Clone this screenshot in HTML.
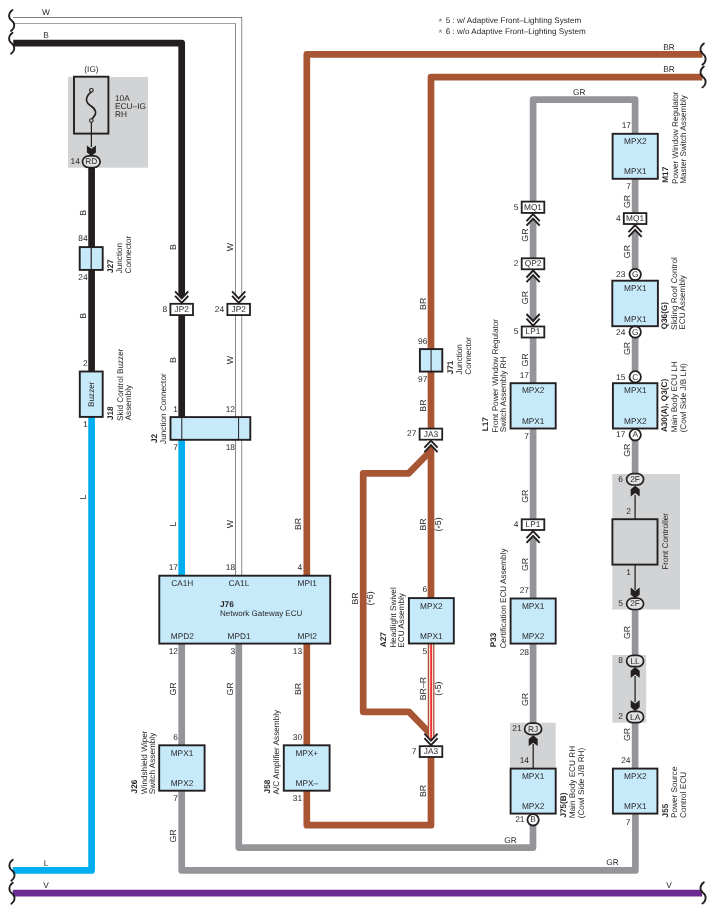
<!DOCTYPE html>
<html><head><meta charset="utf-8"><title>Wiring Diagram</title>
<style>
html,body{margin:0;padding:0;background:#fff;}
svg{display:block;will-change:transform;}
text.v{font-size:8.2px;}
text.s{font-size:8.8px;}
text.p{font-size:8.4px;}
text{font-family:"Liberation Sans",sans-serif;font-size:8.3px;fill:#231f20;text-rendering:geometricPrecision;}
</style></head>
<body>
<svg width="715" height="914" viewBox="0 0 715 914">
<rect x="0" y="0" width="715" height="914" fill="#fff"/>
<rect x="68" y="77" width="80" height="90.7" fill="#d1d3d4"/>
<rect x="612.3" y="474" width="67.7" height="135.5" fill="#d1d3d4"/>
<rect x="612.3" y="655" width="33.9" height="67.7" fill="#d1d3d4"/>
<rect x="510" y="722.7" width="45.7" height="45.3" fill="#d1d3d4"/>
<polyline points="13,20.4 238.7,20.4 238.7,576" fill="none" stroke="#58595b" stroke-width="6.9" stroke-linejoin="miter"/>
<polyline points="13,20.4 238.7,20.4 238.7,576" fill="none" stroke="#fff" stroke-width="5.5" stroke-linejoin="miter"/>
<polyline points="13.3,43.1 181.7,43.1 181.7,417" fill="none" stroke="#231f20" stroke-width="6.7" stroke-linejoin="round" stroke-linecap="butt"/>
<polyline points="91.6,166 91.6,371" fill="none" stroke="#231f20" stroke-width="6.7" stroke-linejoin="round" stroke-linecap="butt"/>
<polyline points="91.6,417 91.6,870.4 12.8,870.4" fill="none" stroke="#00aeef" stroke-width="6.7" stroke-linejoin="round" stroke-linecap="butt"/>
<polyline points="181.7,440 181.7,576" fill="none" stroke="#00aeef" stroke-width="6.7" stroke-linejoin="round" stroke-linecap="butt"/>
<polyline points="181.7,644 181.7,870.4 635.4,870.4 635.4,814" fill="none" stroke="#939598" stroke-width="6.7" stroke-linejoin="round" stroke-linecap="butt"/>
<polyline points="238.8,644 238.8,847.6 533,847.6 533,820" fill="none" stroke="#939598" stroke-width="6.7" stroke-linejoin="round" stroke-linecap="butt"/>
<polyline points="306.8,576 306.8,54.4 702.4,54.4" fill="none" stroke="#a85534" stroke-width="6.7" stroke-linejoin="round" stroke-linecap="butt"/>
<polyline points="306.8,644 306.8,825.2 431,825.2 431,757" fill="none" stroke="#a85534" stroke-width="6.7" stroke-linejoin="round" stroke-linecap="butt"/>
<polyline points="702.4,77.2 431,77.2 431,598" fill="none" stroke="#a85534" stroke-width="6.7" stroke-linejoin="round" stroke-linecap="butt"/>
<polyline points="431,450.5 408.6,473.4 363.2,473.4 363.2,711.8 409,711.8 431,734.5 431,746" fill="none" stroke="#a85534" stroke-width="6.7" stroke-linejoin="round" stroke-linecap="butt"/>
<polyline points="431.1,644 431.1,744" fill="none" stroke="#a85534" stroke-width="6.7" stroke-linejoin="round" stroke-linecap="butt"/>
<polyline points="431.1,644 431.1,744" fill="none" stroke="#f6e1d8" stroke-width="4.1" stroke-linejoin="round" stroke-linecap="butt"/>
<polyline points="431.1,644 431.1,744" fill="none" stroke="#ed1c24" stroke-width="1.6" stroke-linejoin="round" stroke-linecap="butt"/>
<polyline points="533.1,202 533.1,99.6 635.1,99.6 635.1,134" fill="none" stroke="#939598" stroke-width="6.7" stroke-linejoin="round" stroke-linecap="butt"/>
<polyline points="635.1,179 635.1,474" fill="none" stroke="#939598" stroke-width="6.7" stroke-linejoin="round" stroke-linecap="butt"/>
<polyline points="635.1,609 635.1,656" fill="none" stroke="#939598" stroke-width="6.7" stroke-linejoin="round" stroke-linecap="butt"/>
<polyline points="635.1,722 635.1,769" fill="none" stroke="#939598" stroke-width="6.7" stroke-linejoin="round" stroke-linecap="butt"/>
<polyline points="533.1,212 533.1,723" fill="none" stroke="#939598" stroke-width="6.7" stroke-linejoin="round" stroke-linecap="butt"/>
<polyline points="12.8,893.1 702.2,893.1" fill="none" stroke="#6d2c91" stroke-width="6.7" stroke-linejoin="round" stroke-linecap="butt"/>
<line x1="635.1" y1="495" x2="635.1" y2="519.5" stroke="#231f20" stroke-width="1.25"/>
<line x1="635.1" y1="564.5" x2="635.1" y2="590" stroke="#231f20" stroke-width="1.25"/>
<line x1="635.1" y1="676" x2="635.1" y2="702" stroke="#231f20" stroke-width="1.25"/>
<line x1="533.2" y1="744" x2="533.2" y2="768" stroke="#231f20" stroke-width="1.25"/>
<path d="M12.5,10.1 C8.1,13.235 8.1,18.042 11.6,20.55 C15.1,23.058 15.4,27.865 11,31" fill="none" stroke="#231f20" stroke-width="1.8" stroke-linecap="round"/>
<path d="M12.5,32.7 C8.1,35.85 8.1,40.68 11.6,43.2 C15.1,45.72 15.4,50.55 11,53.7" fill="none" stroke="#231f20" stroke-width="1.8" stroke-linecap="round"/>
<path d="M12.8,859.7 C8.4,862.85 8.4,867.68 11.9,870.2 C15.4,872.72 15.7,877.55 11.3,880.7" fill="none" stroke="#231f20" stroke-width="1.8" stroke-linecap="round"/>
<path d="M12.8,882.8 C8.4,885.95 8.4,890.78 11.9,893.3 C15.4,895.82 15.7,900.65 11.3,903.8" fill="none" stroke="#231f20" stroke-width="1.8" stroke-linecap="round"/>
<path d="M703.9,43.4 C699.5,46.61 699.5,51.532 703,54.1 C706.5,56.668 706.8,61.59 702.4,64.8" fill="none" stroke="#231f20" stroke-width="1.8" stroke-linecap="round"/>
<path d="M703.9,66.5 C699.5,69.635 699.5,74.442 703,76.95 C706.5,79.458 706.8,84.265 702.4,87.4" fill="none" stroke="#231f20" stroke-width="1.8" stroke-linecap="round"/>
<path d="M703.9,882.2 C699.5,885.395 699.5,890.294 703,892.85 C706.5,895.406 706.8,900.305 702.4,903.5" fill="none" stroke="#231f20" stroke-width="1.8" stroke-linecap="round"/>
<rect x="74" y="76.7" width="34.4" height="56.9" fill="#d1d3d4" stroke="#231f20" stroke-width="1.9"/>
<path d="M91.2,91.8 C84,98 86,103 91,106 C96,109.5 98,113.5 91.6,119" fill="none" stroke="#231f20" stroke-width="1.6"/>
<circle cx="91.4" cy="90.3" r="1.8" fill="#d1d3d4" stroke="#231f20" stroke-width="1.1"/>
<circle cx="91.4" cy="120.5" r="1.8" fill="#d1d3d4" stroke="#231f20" stroke-width="1.1"/>
<line x1="91.4" y1="122" x2="91.4" y2="147" stroke="#231f20" stroke-width="1.25"/>
<polygon points="91.4,156.1 95.9,152.5 95.9,145.4 91.4,148.7 86.9,145.4 86.9,152.5" fill="#231f20"/>
<rect x="82.5" y="155.9" width="17.6" height="11.6" rx="6.4" ry="5.8" fill="#e1e2e3" stroke="#231f20" stroke-width="1.7"/>
<text x="91.3" y="164.3" text-anchor="middle">RD</text>
<text class="p" x="79.8" y="164.2" text-anchor="end">14</text>
<text x="91.5" y="71.8" text-anchor="middle">(IG)</text>
<text x="115" y="100.5">10A</text>
<text x="115" y="108.8">ECU–IG</text>
<text x="115" y="117">RH</text>
<rect x="79.7" y="247.1" width="23" height="22.8" fill="#c7eafb" stroke="#231f20" stroke-width="1.9"/>
<line x1="91.2" y1="247.1" x2="91.2" y2="269.9" stroke="#231f20" stroke-width="1.2"/>
<text class="p" x="87.6" y="241.4" text-anchor="end">84</text>
<text class="p" x="87.6" y="280.4" text-anchor="end">24</text>
<text class="v" transform="translate(112.80,273.11) rotate(-90)" font-weight="bold">J27</text>
<text class="v" transform="translate(122.20,273.37) rotate(-90)">Junction</text>
<text class="v" transform="translate(131.00,273.48) rotate(-90)">Connector</text>
<text class="v s" transform="translate(86.20,212.80) rotate(-90)" text-anchor="middle">B</text>
<text class="v s" transform="translate(86.20,315.70) rotate(-90)" text-anchor="middle">B</text>
<rect x="79.8" y="371.5" width="22.9" height="45.4" fill="#c7eafb" stroke="#231f20" stroke-width="1.9"/>
<text class="v" transform="translate(94.30,394.20) rotate(-90)" text-anchor="middle">Buzzer</text>
<text class="p" x="87.6" y="366.2" text-anchor="end">2</text>
<text class="p" x="87.6" y="427.3" text-anchor="end">1</text>
<text class="v" transform="translate(113.30,420.01) rotate(-90)" font-weight="bold">J18</text>
<text class="v" transform="translate(122.50,420.90) rotate(-90)">Skid Control Buzzer</text>
<text class="v" transform="translate(131.10,420.34) rotate(-90)">Assembly</text>
<text class="v s" transform="translate(86.20,497.00) rotate(-90)" text-anchor="middle">L</text>
<polygon points="177.8,303.1 185.6,303.1 185.6,294.164 181.7,298.3 177.8,294.164" fill="#fff"/>
<polyline points="175.1,295.9 181.7,302.9 188.3,295.9" fill="none" stroke="#231f20" stroke-width="1.9" stroke-linejoin="miter"/>
<polyline points="175.1,291.3 181.7,298.3 188.3,291.3" fill="none" stroke="#231f20" stroke-width="1.9" stroke-linejoin="miter"/>
<polygon points="234.8,303.1 242.6,303.1 242.6,294.164 238.7,298.3 234.8,294.164" fill="#fff"/>
<polyline points="232.1,295.9 238.7,302.9 245.3,295.9" fill="none" stroke="#231f20" stroke-width="1.9" stroke-linejoin="miter"/>
<polyline points="232.1,291.3 238.7,298.3 245.3,291.3" fill="none" stroke="#231f20" stroke-width="1.9" stroke-linejoin="miter"/>
<rect x="170.4" y="303.8" width="22.6" height="11.3" fill="#fff" stroke="#231f20" stroke-width="1.8"/>
<text x="181.7" y="311.95" text-anchor="middle">JP2</text>
<text class="p" x="167.2" y="311.8" text-anchor="end">8</text>
<rect x="227.4" y="303.8" width="22.6" height="11.3" fill="#fff" stroke="#231f20" stroke-width="1.8"/>
<text x="238.7" y="311.95" text-anchor="middle">JP2</text>
<text class="p" x="224.2" y="311.8" text-anchor="end">24</text>
<text class="v s" transform="translate(176.10,247.00) rotate(-90)" text-anchor="middle">B</text>
<text class="v s" transform="translate(176.10,360.00) rotate(-90)" text-anchor="middle">B</text>
<text class="v s" transform="translate(233.30,247.00) rotate(-90)" text-anchor="middle">W</text>
<text class="v s" transform="translate(233.30,360.00) rotate(-90)" text-anchor="middle">W</text>
<text x="46" y="15.2" text-anchor="middle">W</text>
<text x="46" y="37.9" text-anchor="middle">B</text>
<rect x="170.5" y="417.1" width="79.8" height="22.7" fill="#c7eafb" stroke="#231f20" stroke-width="1.9"/>
<line x1="181.8" y1="417.1" x2="181.8" y2="439.9" stroke="#231f20" stroke-width="1"/>
<line x1="238.6" y1="417.1" x2="238.6" y2="439.9" stroke="#231f20" stroke-width="1"/>
<text class="p" x="178" y="411.7" text-anchor="end">1</text>
<text class="p" x="235" y="411.7" text-anchor="end">12</text>
<text class="p" x="178" y="450.3" text-anchor="end">7</text>
<text class="p" x="235" y="450.3" text-anchor="end">18</text>
<text class="v" transform="translate(156.90,442.94) rotate(-90)" font-weight="bold">J2</text>
<text class="v" transform="translate(166.30,443.88) rotate(-90)">Junction Connector</text>
<text class="v s" transform="translate(176.10,524.00) rotate(-90)" text-anchor="middle">L</text>
<text class="v s" transform="translate(233.30,524.00) rotate(-90)" text-anchor="middle">W</text>
<text class="v s" transform="translate(300.90,524.00) rotate(-90)" text-anchor="middle">BR</text>
<rect x="159.3" y="575.7" width="170.9" height="67.9" fill="#c7eafb" stroke="#231f20" stroke-width="1.9"/>
<text class="p" x="178" y="569.8" text-anchor="end">17</text>
<text class="p" x="235.1" y="569.8" text-anchor="end">18</text>
<text class="p" x="302.2" y="569.8" text-anchor="end">4</text>
<text x="171.2" y="585.8">CA1H</text>
<text x="228.6" y="585.8">CA1L</text>
<text x="297.5" y="585.8">MPI1</text>
<text x="220" y="606.5" font-weight="bold">J76</text>
<text x="220" y="616.3" style="font-size:8px;">Network Gateway ECU</text>
<text x="170.8" y="638.9">MPD2</text>
<text x="227.6" y="638.9">MPD1</text>
<text x="297.5" y="638.9">MPI2</text>
<text class="p" x="178" y="653.7" text-anchor="end">12</text>
<text class="p" x="235.1" y="653.7" text-anchor="end">3</text>
<text class="p" x="302.2" y="653.7" text-anchor="end">13</text>
<text class="v s" transform="translate(176.10,689.00) rotate(-90)" text-anchor="middle">GR</text>
<text class="v s" transform="translate(233.30,689.00) rotate(-90)" text-anchor="middle">GR</text>
<text class="v s" transform="translate(300.90,689.00) rotate(-90)" text-anchor="middle">BR</text>
<rect x="159.2" y="745.3" width="45.4" height="45.4" fill="#c7eafb" stroke="#231f20" stroke-width="1.9"/>
<text x="182" y="756.2" text-anchor="middle">MPX1</text>
<text x="182" y="786.4" text-anchor="middle">MPX2</text>
<text class="p" x="178" y="740.2" text-anchor="end">6</text>
<text class="p" x="178" y="801.1" text-anchor="end">7</text>
<text class="v" transform="translate(136.50,793.41) rotate(-90)" font-weight="bold">J26</text>
<text class="v" transform="translate(146.80,794.17) rotate(-90)">Windshield Wiper</text>
<text class="v" transform="translate(155.10,794.14) rotate(-90)">Switch Assembly</text>
<text class="v s" transform="translate(176.10,836.00) rotate(-90)" text-anchor="middle">GR</text>
<rect x="283.8" y="745.3" width="45.8" height="45.4" fill="#c7eafb" stroke="#231f20" stroke-width="1.9"/>
<text x="306.8" y="756.2" text-anchor="middle">MPX+</text>
<text x="306.8" y="786.4" text-anchor="middle">MPX–</text>
<text class="p" x="302.2" y="740.2" text-anchor="end">30</text>
<text class="p" x="302.2" y="801.1" text-anchor="end">31</text>
<text class="v" transform="translate(269.60,793.41) rotate(-90)" font-weight="bold">J58</text>
<text class="v" transform="translate(278.80,794.51) rotate(-90)">A/C Amplifier Assembly</text>
<rect x="419.9" y="349.1" width="22.4" height="22.5" fill="#c7eafb" stroke="#231f20" stroke-width="1.9"/>
<line x1="431.1" y1="349.1" x2="431.1" y2="371.6" stroke="#231f20" stroke-width="1"/>
<text class="p" x="427.4" y="343.6" text-anchor="end">96</text>
<text class="p" x="427.4" y="382.4" text-anchor="end">97</text>
<text class="v" transform="translate(452.60,374.31) rotate(-90)" font-weight="bold">J71</text>
<text class="v" transform="translate(461.80,374.57) rotate(-90)">Junction</text>
<text class="v" transform="translate(470.70,374.68) rotate(-90)">Connector</text>
<text class="v s" transform="translate(425.60,303.80) rotate(-90)" text-anchor="middle">BR</text>
<text class="v s" transform="translate(425.60,405.60) rotate(-90)" text-anchor="middle">BR</text>
<rect x="419.6" y="428.6" width="22.6" height="11.1" fill="#fff" stroke="#231f20" stroke-width="1.8"/>
<text x="430.9" y="436.55" text-anchor="middle">JA3</text>
<text class="p" x="416.4" y="436.4" text-anchor="end">27</text>
<polygon points="427.1,440.4 434.9,440.4 434.9,449.336 431,445.2 427.1,449.336" fill="#fff"/>
<polyline points="424.4,447.6 431,440.6 437.6,447.6" fill="none" stroke="#231f20" stroke-width="1.9" stroke-linejoin="miter"/>
<polyline points="424.4,452.2 431,445.2 437.6,452.2" fill="none" stroke="#231f20" stroke-width="1.9" stroke-linejoin="miter"/>
<text class="v s" transform="translate(425.60,524.50) rotate(-90)" text-anchor="middle">BR</text>
<text class="v s" transform="translate(440.90,524.50) rotate(-90)" text-anchor="middle">(<tspan fill="#58595b" dy="1.7">*</tspan><tspan dy="-1.7">5)</tspan></text>
<text class="v s" transform="translate(357.50,598.50) rotate(-90)" text-anchor="middle">BR</text>
<text class="v s" transform="translate(372.60,598.50) rotate(-90)" text-anchor="middle">(<tspan fill="#58595b" dy="1.7">*</tspan><tspan dy="-1.7">6)</tspan></text>
<rect x="408.9" y="598.1" width="44.9" height="45.4" fill="#c7eafb" stroke="#231f20" stroke-width="1.9"/>
<text x="431.3" y="608.9" text-anchor="middle">MPX2</text>
<text x="431.3" y="638.8" text-anchor="middle">MPX1</text>
<text class="p" x="427.2" y="592.3" text-anchor="end">6</text>
<text class="p" x="427.2" y="653.5" text-anchor="end">5</text>
<text class="v" transform="translate(386.30,647.13) rotate(-90)" font-weight="bold">A27</text>
<text class="v" transform="translate(396.00,647.82) rotate(-90)">Headlight Swivel</text>
<text class="v" transform="translate(404.00,647.74) rotate(-90)">ECU Assembly</text>
<text class="v s" transform="translate(425.60,688.60) rotate(-90)" text-anchor="middle">BR–R</text>
<text class="v s" transform="translate(440.90,688.60) rotate(-90)" text-anchor="middle">(<tspan fill="#58595b" dy="1.7">*</tspan><tspan dy="-1.7">5)</tspan></text>
<polygon points="427.1,745.4 434.9,745.4 434.9,736.464 431,740.6 427.1,736.464" fill="#fff"/>
<polyline points="424.4,738.2 431,745.2 437.6,738.2" fill="none" stroke="#231f20" stroke-width="1.9" stroke-linejoin="miter"/>
<polyline points="424.4,733.6 431,740.6 437.6,733.6" fill="none" stroke="#231f20" stroke-width="1.9" stroke-linejoin="miter"/>
<rect x="419.7" y="746.2" width="22.6" height="10.8" fill="#fff" stroke="#231f20" stroke-width="1.8"/>
<text x="431" y="753.85" text-anchor="middle">JA3</text>
<text class="p" x="416.5" y="753.7" text-anchor="end">7</text>
<text class="v s" transform="translate(425.60,790.90) rotate(-90)" text-anchor="middle">BR</text>
<rect x="521.7" y="201.6" width="22.6" height="11.3" fill="#fff" stroke="#231f20" stroke-width="1.8"/>
<text x="533" y="209.75" text-anchor="middle">MQ1</text>
<text class="p" x="518.5" y="209.6" text-anchor="end">5</text>
<polygon points="529.2,213.9 537,213.9 537,222.836 533.1,218.7 529.2,222.836" fill="#fff"/>
<polyline points="526.5,221.1 533.1,214.1 539.7,221.1" fill="none" stroke="#231f20" stroke-width="1.9" stroke-linejoin="miter"/>
<polyline points="526.5,225.7 533.1,218.7 539.7,225.7" fill="none" stroke="#231f20" stroke-width="1.9" stroke-linejoin="miter"/>
<rect x="521.7" y="258.3" width="22.6" height="11" fill="#fff" stroke="#231f20" stroke-width="1.8"/>
<text x="533" y="266.15" text-anchor="middle">QP2</text>
<text class="p" x="518.5" y="266" text-anchor="end">2</text>
<polygon points="529.2,270.3 537,270.3 537,279.236 533.1,275.1 529.2,279.236" fill="#fff"/>
<polyline points="526.5,277.5 533.1,270.5 539.7,277.5" fill="none" stroke="#231f20" stroke-width="1.9" stroke-linejoin="miter"/>
<polyline points="526.5,282.1 533.1,275.1 539.7,282.1" fill="none" stroke="#231f20" stroke-width="1.9" stroke-linejoin="miter"/>
<polygon points="529.2,325.8 537,325.8 537,316.864 533.1,321 529.2,316.864" fill="#fff"/>
<polyline points="526.5,318.6 533.1,325.6 539.7,318.6" fill="none" stroke="#231f20" stroke-width="1.9" stroke-linejoin="miter"/>
<polyline points="526.5,314 533.1,321 539.7,314" fill="none" stroke="#231f20" stroke-width="1.9" stroke-linejoin="miter"/>
<rect x="521.7" y="326.5" width="22.6" height="11" fill="#fff" stroke="#231f20" stroke-width="1.8"/>
<text x="533" y="334.35" text-anchor="middle">LP1</text>
<text class="p" x="518.5" y="334.2" text-anchor="end">5</text>
<text class="v s" transform="translate(528.10,235.10) rotate(-90)" text-anchor="middle">GR</text>
<text class="v s" transform="translate(528.10,297.60) rotate(-90)" text-anchor="middle">GR</text>
<text class="v s" transform="translate(528.10,360.00) rotate(-90)" text-anchor="middle">GR</text>
<text class="p" x="529" y="377.6" text-anchor="end">17</text>
<rect x="510.6" y="383.2" width="45.1" height="45.3" fill="#c7eafb" stroke="#231f20" stroke-width="1.9"/>
<text x="533.2" y="393" text-anchor="middle">MPX2</text>
<text x="533.2" y="423.7" text-anchor="middle">MPX1</text>
<text class="p" x="529" y="438.8" text-anchor="end">7</text>
<text class="v" transform="translate(488.30,431.22) rotate(-90)" font-weight="bold">L17</text>
<text class="v" transform="translate(497.70,432.74) rotate(-90)">Front Power Window Regulator</text>
<text class="v" transform="translate(505.70,432.16) rotate(-90)">Switch Assembly RH</text>
<text class="v s" transform="translate(528.10,496.20) rotate(-90)" text-anchor="middle">GR</text>
<rect x="521.7" y="519.3" width="22.6" height="10.7" fill="#fff" stroke="#231f20" stroke-width="1.8"/>
<text x="533" y="526.85" text-anchor="middle">LP1</text>
<text class="p" x="518.5" y="526.7" text-anchor="end">4</text>
<polygon points="529.2,531 537,531 537,539.936 533.1,535.8 529.2,539.936" fill="#fff"/>
<polyline points="526.5,538.2 533.1,531.2 539.7,538.2" fill="none" stroke="#231f20" stroke-width="1.9" stroke-linejoin="miter"/>
<polyline points="526.5,542.8 533.1,535.8 539.7,542.8" fill="none" stroke="#231f20" stroke-width="1.9" stroke-linejoin="miter"/>
<text class="v s" transform="translate(528.10,564.40) rotate(-90)" text-anchor="middle">GR</text>
<text class="p" x="529" y="593.2" text-anchor="end">27</text>
<rect x="510.6" y="598.5" width="45.1" height="45.1" fill="#c7eafb" stroke="#231f20" stroke-width="1.9"/>
<text x="533.2" y="608.7" text-anchor="middle">MPX1</text>
<text x="533.2" y="639" text-anchor="middle">MPX2</text>
<text class="p" x="529" y="654.5" text-anchor="end">28</text>
<text class="v" transform="translate(495.90,647.22) rotate(-90)" font-weight="bold">P33</text>
<text class="v" transform="translate(505.70,648.54) rotate(-90)">Certification ECU Assembly</text>
<text class="v s" transform="translate(528.10,699.50) rotate(-90)" text-anchor="middle">GR</text>
<rect x="524.6" y="723.2" width="17" height="11.4" rx="6.3" ry="5.7" fill="#e1e2e3" stroke="#231f20" stroke-width="1.7"/>
<text x="533.1" y="731.5" text-anchor="middle">RJ</text>
<text class="p" x="521.6" y="731.4" text-anchor="end">21</text>
<polygon points="533.2,735.3 537.7,738.9 537.7,746 533.2,742.7 528.7,746 528.7,738.9" fill="#231f20"/>
<text class="p" x="529" y="763.3" text-anchor="end">14</text>
<rect x="510.6" y="768.6" width="45.1" height="45" fill="#c7eafb" stroke="#231f20" stroke-width="1.9"/>
<text x="533.2" y="778.8" text-anchor="middle">MPX1</text>
<text x="533.2" y="809.2" text-anchor="middle">MPX2</text>
<circle cx="533.1" cy="819.8" r="5.7" fill="#fff" stroke="#231f20" stroke-width="1.8"/>
<text x="533.1" y="822.4" text-anchor="middle">B</text>
<text class="p" x="524.5" y="822.2" text-anchor="end">21</text>
<text class="v" transform="translate(566.20,817.58) rotate(-90)" font-weight="bold">J75(B)</text>
<text class="v" transform="translate(574.70,818.30) rotate(-90)">Main Body ECU RH</text>
<text class="v" transform="translate(583.60,818.28) rotate(-90)">(Cowl Side J/B RH)</text>
<text x="510.5" y="842.9" text-anchor="middle">GR</text>
<text x="612.5" y="865.2" text-anchor="middle">GR</text>
<text x="46" y="865.8" text-anchor="middle">L</text>
<text x="46" y="888.2" text-anchor="middle">V</text>
<text x="669" y="888" text-anchor="middle">V</text>
<text x="669" y="49.7" text-anchor="middle">BR</text>
<text x="669" y="72.4" text-anchor="middle">BR</text>
<text x="579.3" y="95.1" text-anchor="middle">GR</text>
<rect x="612.6" y="133.8" width="45.2" height="45" fill="#c7eafb" stroke="#231f20" stroke-width="1.9"/>
<text x="635.3" y="143.9" text-anchor="middle">MPX2</text>
<text x="635.3" y="173.9" text-anchor="middle">MPX1</text>
<text class="p" x="631" y="128.2" text-anchor="end">17</text>
<text class="p" x="631" y="189" text-anchor="end">7</text>
<text class="v" transform="translate(667.80,182.74) rotate(-90)" font-weight="bold">M17</text>
<text class="v" transform="translate(677.70,183.91) rotate(-90)">Power Window Regulator</text>
<text class="v" transform="translate(685.80,183.86) rotate(-90)">Master Switch Assembly</text>
<text class="v s" transform="translate(629.70,201.40) rotate(-90)" text-anchor="middle">GR</text>
<rect x="623.8" y="213.1" width="22.6" height="10.9" fill="#fff" stroke="#231f20" stroke-width="1.8"/>
<text x="635.1" y="220.85" text-anchor="middle">MQ1</text>
<text class="p" x="620.6" y="220.7" text-anchor="end">4</text>
<polygon points="631.2,225 639,225 639,233.936 635.1,229.8 631.2,233.936" fill="#fff"/>
<polyline points="628.5,232.2 635.1,225.2 641.7,232.2" fill="none" stroke="#231f20" stroke-width="1.9" stroke-linejoin="miter"/>
<polyline points="628.5,236.8 635.1,229.8 641.7,236.8" fill="none" stroke="#231f20" stroke-width="1.9" stroke-linejoin="miter"/>
<text class="v s" transform="translate(629.70,251.60) rotate(-90)" text-anchor="middle">GR</text>
<circle cx="635.2" cy="274.5" r="5.7" fill="#fff" stroke="#231f20" stroke-width="1.8"/>
<text x="635.2" y="277.1" text-anchor="middle">G</text>
<text class="p" x="625.4" y="277.4" text-anchor="end">23</text>
<rect x="612.3" y="280.7" width="45.6" height="45.5" fill="#c7eafb" stroke="#231f20" stroke-width="1.9"/>
<text x="635.3" y="291.3" text-anchor="middle">MPX1</text>
<text x="635.3" y="321.6" text-anchor="middle">MPX1</text>
<circle cx="635.2" cy="332" r="5.7" fill="#fff" stroke="#231f20" stroke-width="1.8"/>
<text x="635.2" y="334.6" text-anchor="middle">G</text>
<text class="p" x="625.4" y="334.8" text-anchor="end">24</text>
<text class="v" transform="translate(667.30,329.32) rotate(-90)" font-weight="bold">Q36(G)</text>
<text class="v" transform="translate(677.10,330.01) rotate(-90)">Sliding Roof Control</text>
<text class="v" transform="translate(685.30,329.74) rotate(-90)">ECU Assembly</text>
<text class="v s" transform="translate(629.70,348.50) rotate(-90)" text-anchor="middle">GR</text>
<circle cx="635.2" cy="376.9" r="5.7" fill="#fff" stroke="#231f20" stroke-width="1.8"/>
<text x="635.2" y="379.5" text-anchor="middle">C</text>
<text class="p" x="625.4" y="379.6" text-anchor="end">15</text>
<rect x="612.9" y="383.2" width="44.5" height="45.3" fill="#c7eafb" stroke="#231f20" stroke-width="1.9"/>
<text x="635.3" y="393" text-anchor="middle">MPX1</text>
<text x="635.3" y="423.7" text-anchor="middle">MPX2</text>
<circle cx="635.2" cy="434.8" r="5.7" fill="#fff" stroke="#231f20" stroke-width="1.8"/>
<text x="635.2" y="437.4" text-anchor="middle">A</text>
<text class="p" x="625.4" y="437.4" text-anchor="end">17</text>
<text class="v" transform="translate(667.20,432.11) rotate(-90)" font-weight="bold">A30(A), Q3(C)</text>
<text class="v" transform="translate(676.80,432.38) rotate(-90)">Main Body ECU LH</text>
<text class="v" transform="translate(685.70,432.36) rotate(-90)">(Cowl Side J/B LH)</text>
<text class="v s" transform="translate(629.70,450.20) rotate(-90)" text-anchor="middle">GR</text>
<rect x="626.6" y="473.6" width="17" height="11.4" rx="6.3" ry="5.7" fill="#e1e2e3" stroke="#231f20" stroke-width="1.7"/>
<text x="635.1" y="481.9" text-anchor="middle">2F</text>
<text class="p" x="623" y="481.9" text-anchor="end">6</text>
<polygon points="635.2,485.7 639.7,489.3 639.7,496.4 635.2,493.1 630.7,496.4 630.7,489.3" fill="#231f20"/>
<text class="p" x="631" y="514.2" text-anchor="end">2</text>
<rect x="612.4" y="519.2" width="45.1" height="45.4" fill="#d1d3d4" stroke="#231f20" stroke-width="1.9"/>
<text class="p" x="631" y="575.4" text-anchor="end">1</text>
<polygon points="635.2,598.3 639.7,594.7 639.7,587.6 635.2,590.9 630.7,587.6 630.7,594.7" fill="#231f20"/>
<rect x="626.6" y="598.1" width="17" height="11.4" rx="6.3" ry="5.7" fill="#e1e2e3" stroke="#231f20" stroke-width="1.7"/>
<text x="635.1" y="606.4" text-anchor="middle">2F</text>
<text class="p" x="623" y="606.3" text-anchor="end">5</text>
<text class="v" transform="translate(667.90,541.40) rotate(-90)" text-anchor="middle">Front Controller</text>
<text class="v s" transform="translate(629.70,632.40) rotate(-90)" text-anchor="middle">GR</text>
<rect x="626.6" y="655.3" width="17" height="11.4" rx="6.3" ry="5.7" fill="#e1e2e3" stroke="#231f20" stroke-width="1.7"/>
<text x="635.1" y="663.6" text-anchor="middle">LL</text>
<text class="p" x="623" y="663" text-anchor="end">8</text>
<polygon points="635.2,667.1 639.7,670.7 639.7,677.8 635.2,674.5 630.7,677.8 630.7,670.7" fill="#231f20"/>
<polygon points="635.2,710.9 639.7,707.3 639.7,700.2 635.2,703.5 630.7,700.2 630.7,707.3" fill="#231f20"/>
<rect x="626.6" y="711.3" width="17" height="11.4" rx="6.3" ry="5.7" fill="#e1e2e3" stroke="#231f20" stroke-width="1.7"/>
<text x="635.1" y="719.6" text-anchor="middle">LA</text>
<text class="p" x="623" y="719.2" text-anchor="end">2</text>
<text class="v s" transform="translate(629.70,734.40) rotate(-90)" text-anchor="middle">GR</text>
<text class="p" x="630.5" y="763.3" text-anchor="end">24</text>
<rect x="612.9" y="768.6" width="44.5" height="45" fill="#c7eafb" stroke="#231f20" stroke-width="1.9"/>
<text x="635.3" y="778.8" text-anchor="middle">MPX2</text>
<text x="635.3" y="809.2" text-anchor="middle">MPX1</text>
<text class="p" x="630.5" y="824.6" text-anchor="end">7</text>
<text class="v" transform="translate(667.90,817.41) rotate(-90)" font-weight="bold">J55</text>
<text class="v" transform="translate(676.80,817.99) rotate(-90)">Power Source</text>
<text class="v" transform="translate(685.70,817.90) rotate(-90)">Control ECU</text>
<text x="438.6" y="25.2" style="font-size:9.5px;fill:#6d6e71;">*</text>
<text x="438.6" y="36.3" style="font-size:9.5px;fill:#6d6e71;">*</text>
<text x="445.7" y="23.1" style="font-size:8.08px;">5 : w/ Adaptive Front–Lighting System</text>
<text x="445.7" y="34.2" style="font-size:8.08px;">6 : w/o Adaptive Front–Lighting System</text>
</svg>
</body></html>
